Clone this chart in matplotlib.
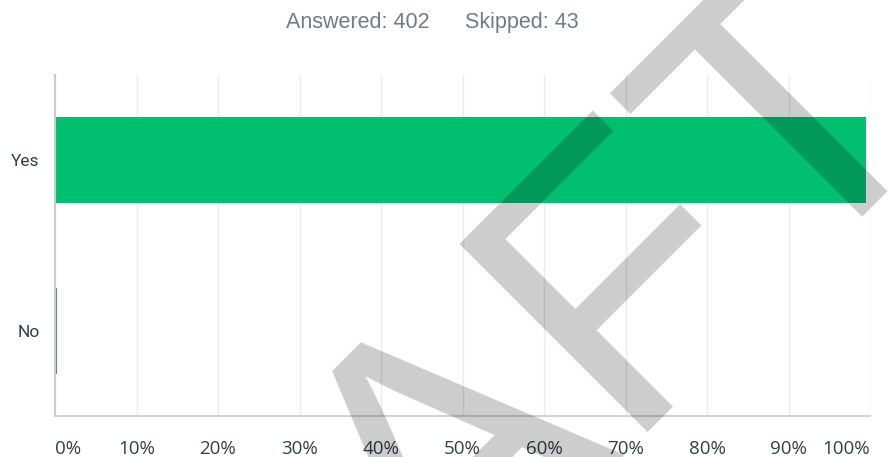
import matplotlib
matplotlib.use("Agg")
import matplotlib.pyplot as plt

categories = ["Yes", "No"]
values = [99.50, 0.25]
bar_colors = ["#00bf6f", "#5b7fc0"]
xticks = [0, 10, 20, 30, 40, 50, 60, 70, 80, 90, 100]
xtick_labels = ["0%", "10%", "20%", "30%", "40%", "50%", "60%", "70%", "80%", "90%", "100%"]
answered = 402
skipped = 43

W, H = 891, 457
fig = plt.figure(figsize=(W / 100, H / 100), dpi=100)
fig.patch.set_facecolor("white")

left, right, top, bottom = 55, 870, 75, 416
ax = fig.add_axes([left / W, (H - bottom) / H, (right - left) / W, (bottom - top) / H])

ypos = list(range(len(categories)))
ax.barh(ypos, values, height=0.505, color=bar_colors, zorder=2)
ax.set_ylim(len(categories) - 0.5, -0.5)
ax.set_xlim(0, 100)

ax.set_yticks(ypos)
ax.set_yticklabels(categories, fontsize=12.5, color="#333e48", family="Roboto")
ax.tick_params(axis="y", length=0, pad=11)

ax.set_xticks(xticks)
ax.set_xticklabels(xtick_labels, fontsize=13.5, color="#333e48", family="Open Sans")
ax.tick_params(axis="x", length=0, pad=17)
lbls = ax.get_xticklabels()
lbls[0].set_horizontalalignment("left")
lbls[-1].set_horizontalalignment("right")

ax.grid(axis="x", color="#ebebeb", linewidth=1.0, zorder=0)
ax.set_axisbelow(True)
for s in ["top", "right"]:
    ax.spines[s].set_visible(False)
ax.spines["left"].set_color("#cccccc")
ax.spines["left"].set_linewidth(1.5)
ax.spines["bottom"].set_color("#d4d4d4")
ax.spines["bottom"].set_linewidth(1.5)

ty = (H - 22.5) / H
fig.text(430 / W, ty, f"Answered: {answered}", ha="right", va="center",
         fontsize=15.5, color="#6f7c87", family="Liberation Sans")
fig.text(465 / W, ty, f"Skipped: {skipped}", ha="left", va="center",
         fontsize=15.5, color="#6f7c87", family="Liberation Sans")

# DRAFT watermark
fig.text(424 / W, (H - 482) / H, "DRAFT", rotation=45, rotation_mode="anchor",
         ha="center", va="center", fontsize=278, color="black", alpha=0.2,
         family="Liberation Sans", zorder=10)

fig.savefig("out.png", dpi=100)
